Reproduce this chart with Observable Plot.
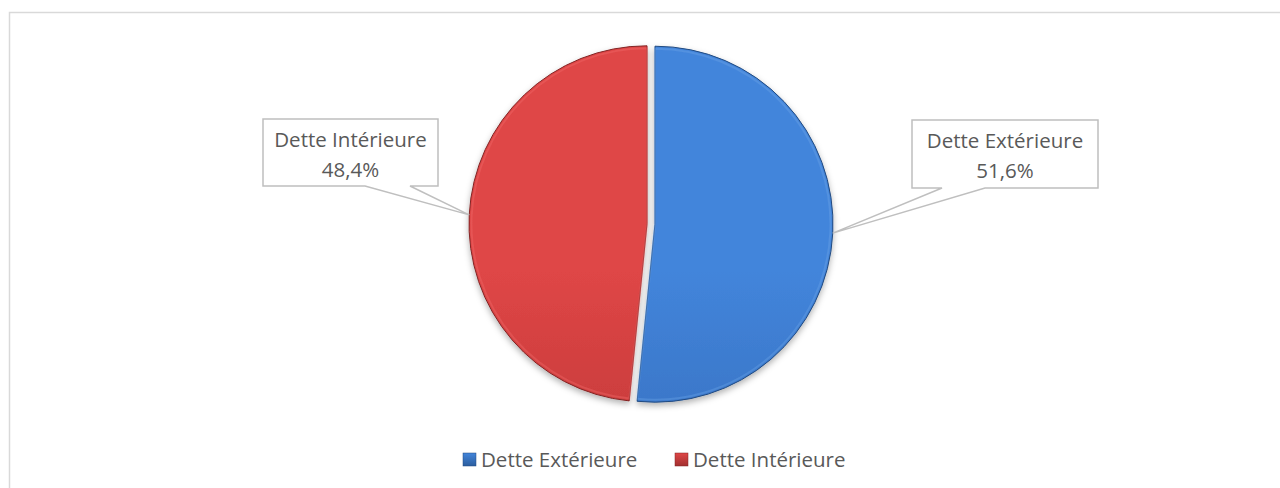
<!DOCTYPE html>
<html>
<head>
<meta charset="utf-8">
<script src="https://cdn.jsdelivr.net/npm/d3@7"></script>
<script src="https://cdn.jsdelivr.net/npm/@observablehq/plot@0.6"></script>
<style>
  html, body { margin: 0; padding: 0; background: #fff; }
  #chart { width: 1280px; height: 488px; }
</style>
</head>
<body>
<div id="chart"></div>
<script>
const categories = ["Dette Extérieure", "Dette Intérieure"];
const values = [51.6, 48.4];
const percentLabels = ["51,6%", "48,4%"];
const sliceColors = [
  { top: "#4385db", mid: "#3873c4", bottom: "#2b5d9e", rim: "#214a80", light: "#6aa2e6" },
  { top: "#df4646", mid: "#c63b3b", bottom: "#a23030", rim: "#822424", light: "#ef6a6a" }
];

const FONT = "'Open Sans', sans-serif";
const FS = 20.5;
const TEXT = "#595959";

function pieMark(index, scales, vals, dims) {
  const g = d3.create("svg:g");
  const cx = 651, cy = 224, r = 178, explode = 4;

  const defs = g.append("defs");
  const f = defs.append("filter").attr("id", "pshadow").attr("x", "-20%").attr("y", "-20%").attr("width", "140%").attr("height", "140%");
  f.append("feDropShadow").attr("dx", 0).attr("dy", 3).attr("stdDeviation", 3).attr("flood-color", "#000").attr("flood-opacity", 0.3);

  sliceColors.forEach((c, i) => {
    const lg = defs.append("linearGradient").attr("id", "grad" + i)
      .attr("gradientUnits", "userSpaceOnUse").attr("x1", 0).attr("y1", cy - r).attr("x2", 0).attr("y2", cy + r);
    lg.append("stop").attr("offset", "0%").attr("stop-color", c.top);
    lg.append("stop").attr("offset", "50%").attr("stop-color", c.mid);
    lg.append("stop").attr("offset", "100%").attr("stop-color", c.bottom);
    const lg2 = defs.append("linearGradient").attr("id", "lgrad" + i)
      .attr("x1", 0).attr("y1", 0).attr("x2", 0).attr("y2", 1);
    lg2.append("stop").attr("offset", "0%").attr("stop-color", c.top);
    lg2.append("stop").attr("offset", "100%").attr("stop-color", c.bottom);
  });

  // Chart frame
  g.append("rect").attr("x", 9.5).attr("y", 12.5).attr("width", 1290).attr("height", 500)
    .attr("fill", "none").attr("stroke", "#d9d9d9").attr("stroke-width", 1.5);

  const pie = d3.pie().sort(null).value(d => d)(values);
  const arc = d3.arc().innerRadius(0).outerRadius(r);
  const arcIn = d3.arc().innerRadius(0).outerRadius(r - 2.5);

  const slices = g.append("g").attr("filter", "url(#pshadow)");
  const tips = [];
  pie.forEach((p, i) => {
    const mid = (p.startAngle + p.endAngle) / 2;
    const ox = Math.sin(mid) * explode, oy = -Math.cos(mid) * explode;
    const sg = slices.append("g").attr("transform", `translate(${cx + ox},${cy + oy})`);
    sg.append("path").attr("d", arc(p)).attr("fill", `url(#grad${i})`)
      .attr("stroke", sliceColors[i].rim).attr("stroke-width", 1);
    sg.append("path").attr("d", arcIn(p)).attr("fill", "none")
      .attr("stroke", sliceColors[i].light).attr("stroke-opacity", 0.4).attr("stroke-width", 2);
    tips.push([cx + ox + Math.sin(mid) * r, cy + oy - Math.cos(mid) * r]);
  });

  // Callout labels
  const boxes = [
    { x0: 912, x1: 1098, y0: 120, y1: 188, b0: 942, b1: 985 },
    { x0: 263, x1: 438, y0: 119, y1: 186, b0: 365, b1: 410 }
  ];
  boxes.forEach((b, i) => {
    const [tx, ty] = tips[i];
    g.append("path")
      .attr("d", `M${b.x0},${b.y0}H${b.x1}V${b.y1}H${b.b1}L${tx},${ty}L${b.b0},${b.y1}H${b.x0}Z`)
      .attr("fill", "#fff").attr("stroke", "#bfbfbf").attr("stroke-width", 1.5);
    const mx = (b.x0 + b.x1) / 2;
    const t = g.append("text").attr("font-family", FONT).attr("font-size", FS)
      .attr("fill", TEXT).attr("text-anchor", "middle");
    t.append("tspan").attr("x", mx).attr("y", b.y0 + 28).text(categories[i]);
    t.append("tspan").attr("x", mx).attr("y", b.y0 + 58).text(percentLabels[i]);
  });

  // Legend
  const legendItems = [{ sx: 463, tx: 481 }, { sx: 675, tx: 693 }];
  legendItems.forEach((l, i) => {
    g.append("rect").attr("x", l.sx).attr("y", 453).attr("width", 13).attr("height", 13)
      .attr("fill", `url(#lgrad${i})`).attr("stroke", sliceColors[i].rim).attr("stroke-width", 0.5);
    g.append("text").attr("x", l.tx).attr("y", 467).attr("font-family", FONT).attr("font-size", FS)
      .attr("text-anchor", "start").attr("fill", TEXT).text(categories[i]);
  });

  return g.node();
}

const chart = Plot.plot({
  width: 1280,
  height: 488,
  margin: 0,
  x: { axis: null },
  y: { axis: null },
  style: { background: "#fff" },
  marks: [pieMark]
});
document.getElementById("chart").appendChild(chart);
</script>
</body>
</html>
